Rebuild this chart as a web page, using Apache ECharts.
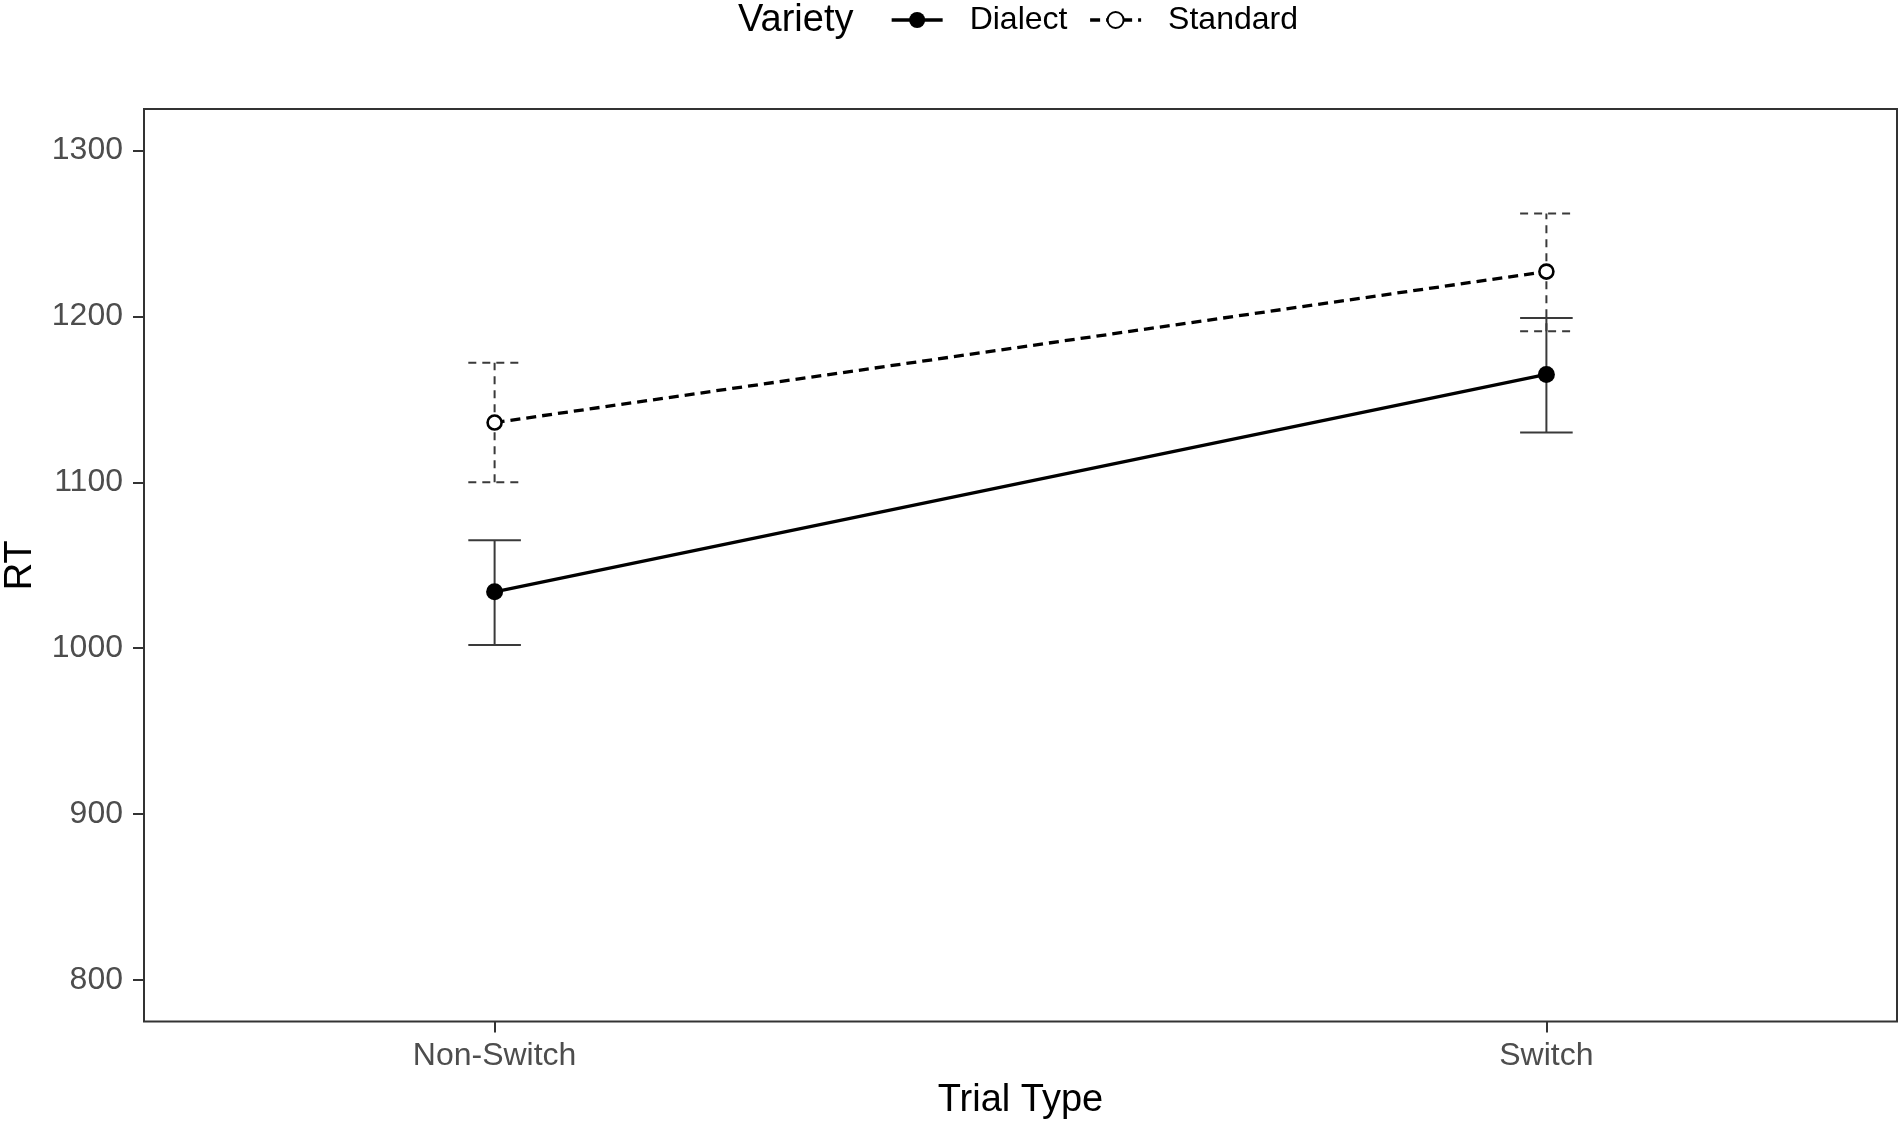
<!DOCTYPE html>
<html>
<head>
<meta charset="utf-8">
<script src="https://cdn.jsdelivr.net/npm/echarts@6/dist/echarts.min.js"></script>
<style>
html,body{margin:0;padding:0;background:#fff;}
#chart{width:1900px;height:1123px;}
</style>
</head>
<body>
<div id="chart"></div>
<script>
const categories = ['Non-Switch', 'Switch'];
const seriesNames = ['Dialect', 'Standard'];
const dialectMean = [1034, 1165];
const dialectLower = [1002, 1130];
const dialectUpper = [1065, 1199];
const standardMean = [1136, 1227];
const standardLower = [1100, 1191];
const standardUpper = [1172, 1262];
const yTicks = [800, 900, 1000, 1100, 1200, 1300];
const xPositions = [0, 1];

const chart = echarts.init(document.getElementById('chart'), null, {renderer: 'canvas'});

function errData(lower, upper) {
  return xPositions.map((x, i) => [x, lower[i], upper[i]]);
}
function lineData(mean) {
  return xPositions.map((x, i) => [x, mean[i]]);
}

function makeErrRender(dash) {
  return function (params, api) {
    const x = api.value(0);
    const lo = api.coord([x, api.value(1)]);
    const hi = api.coord([x, api.value(2)]);
    const hw = api.size([0.05, 0])[0] / 2;
    const style = {stroke: '#3a3a3a', lineWidth: 2, lineDash: dash, fill: null};
    return {
      type: 'group',
      children: [
        {type: 'line', shape: {x1: lo[0], y1: lo[1], x2: hi[0], y2: hi[1]}, style: style},
        {type: 'line', shape: {x1: hi[0] - hw, y1: hi[1], x2: hi[0] + hw, y2: hi[1]}, style: style},
        {type: 'line', shape: {x1: lo[0] - hw, y1: lo[1], x2: lo[0] + hw, y2: lo[1]}, style: style}
      ]
    };
  };
}

const font = 'Liberation Sans, Arial, Helvetica, sans-serif';

const option = {
  backgroundColor: '#ffffff',
  animation: false,
  textStyle: {fontFamily: font},
  title: {
    text: 'Variety',
    left: 738,
    top: 2,
    padding: 0,
    textStyle: {fontSize: 38, fontWeight: 'normal', color: '#000', fontFamily: font}
  },
  legend: {
    data: seriesNames,
    left: 890,
    top: 4,
    padding: 0,
    itemWidth: 51,
    itemHeight: 20,
    itemGap: 21,
    lineStyle: {width: 3.3},
    textStyle: {fontSize: 32, color: '#000', fontFamily: font, padding: [0, 0, 0, 22]}
  },
  grid: {
    left: 144,
    right: 3,
    top: 109,
    bottom: 101.5,
    show: true,
    borderColor: '#333333',
    borderWidth: 2,
    backgroundColor: 'transparent',
    containLabel: false,
    outerBoundsMode: 'none'
  },
  xAxis: {
    type: 'value',
    min: -1 / 3,
    max: 4 / 3,
    name: 'Trial Type',
    nameLocation: 'middle',
    nameGap: 60,
    nameTextStyle: {fontSize: 38, color: '#000', fontFamily: font},
    splitLine: {show: false},
    axisLine: {show: false, onZero: false},
    axisTick: {show: true, length: 11, lineStyle: {color: '#333', width: 2}, customValues: xPositions},
    axisLabel: {
      fontSize: 32, color: '#4d4d4d', margin: 19, fontFamily: font,
      customValues: xPositions,
      formatter: function (v) {
        const i = xPositions.indexOf(Math.round(v));
        return i >= 0 ? categories[i] : '';
      }
    }
  },
  yAxis: {
    type: 'value',
    min: 775,
    max: 1325,
    name: 'RT',
    nameLocation: 'middle',
    nameGap: 104,
    nameTextStyle: {fontSize: 38, color: '#000', fontFamily: font},
    splitLine: {show: false},
    axisLine: {show: false, onZero: false},
    axisTick: {show: true, length: 11, lineStyle: {color: '#333', width: 2}, customValues: yTicks},
    axisLabel: {
      fontSize: 32, color: '#4d4d4d', margin: 21, fontFamily: font, customValues: yTicks,
      padding: [5, 0, 0, 0],
      formatter: function (v) { return String(v); }
    }
  },
  series: [
    {
      name: 'DialectErr',
      type: 'custom',
      renderItem: makeErrRender(null),
      data: errData(dialectLower, dialectUpper),
      z: 1,
      silent: true
    },
    {
      name: 'StandardErr',
      type: 'custom',
      renderItem: makeErrRender([8, 6]),
      data: errData(standardLower, standardUpper),
      z: 1,
      silent: true
    },
    {
      name: 'Dialect',
      type: 'line',
      data: lineData(dialectMean),
      symbol: 'circle',
      symbolSize: 17,
      lineStyle: {color: '#000', width: 3.3, type: 'solid'},
      itemStyle: {color: '#000', borderColor: '#000', borderWidth: 0},
      z: 3
    },
    {
      name: 'Standard',
      type: 'line',
      data: lineData(standardMean),
      symbol: 'circle',
      symbolSize: 14,
      lineStyle: {color: '#000', width: 3.3, type: [10, 6]},
      itemStyle: {color: '#fff', borderColor: '#000', borderWidth: 2.6},
      z: 3
    }
  ]
};
chart.setOption(option);
</script>
</body>
</html>
